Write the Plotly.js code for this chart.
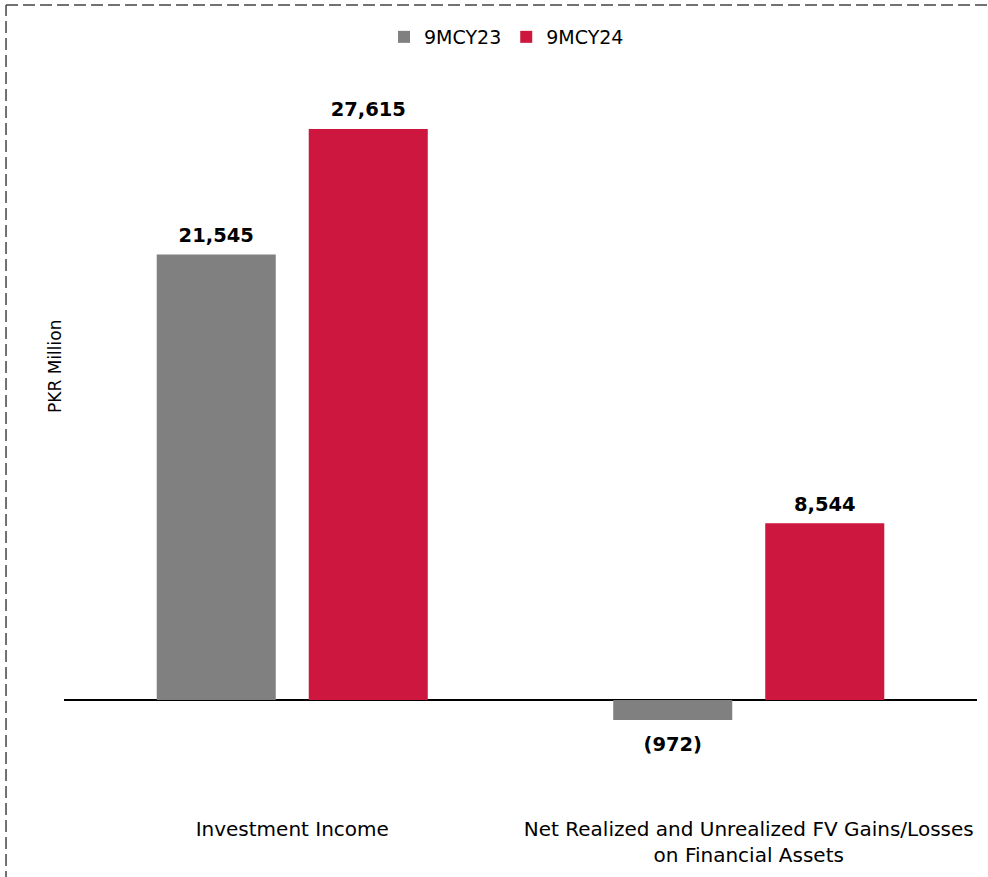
<!DOCTYPE html>
<html>
<head>
<meta charset="utf-8">
<script src="https://cdn.plot.ly/plotly-3.0.1.min.js"></script>
<style>
html,body{margin:0;padding:0;background:#fff;}
#chart{width:988px;height:877px;}
</style>
</head>
<body>
<div id="chart"></div>
<script>
var categories = ["Investment Income", "Net Realized and Unrealized FV Gains/Losses<br>on Financial Assets"];
var seriesNames = ["9MCY23", "9MCY24"];
var values9MCY23 = [21545, -972];
var values9MCY24 = [27615, 8544];
var colors = ["#808080", "#CE173E"];
var yAxisTitle = "PKR Million";

var FONT = "Verdana, 'DejaVu Sans', sans-serif";

function fmt(v) {
  var s = Math.abs(v).toLocaleString("en-US");
  return v < 0 ? "(" + s + ")" : s;
}

var seriesValues = [values9MCY23, values9MCY24];
var traces = [];
seriesValues.forEach(function (vals, i) {
  traces.push({
    type: "bar",
    name: seriesNames[i],
    x: categories,
    y: vals,
    offsetgroup: String(i),
    alignmentgroup: "a",
    marker: {color: colors[i], line: {width: 0}},
    hoverinfo: "skip"
  });
});
seriesValues.forEach(function (vals, i) {
  traces.push({
    type: "scatter",
    mode: "markers+text",
    x: categories,
    y: vals,
    offsetgroup: String(i),
    alignmentgroup: "a",
    showlegend: false,
    hoverinfo: "skip",
    cliponaxis: false,
    text: vals.map(fmt),
    textposition: vals.map(function (v) { return v < 0 ? "bottom center" : "top center"; }),
    texttemplate: "<b>%{text}</b>",
    textfont: {family: FONT, size: 19.5, color: "#000"},
    marker: {size: vals.map(function (v) { return v < 0 ? 24 : 11; }), opacity: 0}
  });
});

var L = 64, R = 11, T = 50, B = 62;
var layout = {
  width: 988,
  height: 877,
  margin: {l: L, r: R, t: T, b: B},
  paper_bgcolor: "#fff",
  plot_bgcolor: "#fff",
  barmode: "group",
  scattermode: "group",
  bargap: 0.334,
  scattergap: 0.334,
  bargroupgap: 0.217,
  font: {family: FONT, color: "#000"},
  showlegend: true,
  legend: {
    orientation: "h",
    x: 0.4847, xanchor: "center",
    y: 1.017, yanchor: "middle",
    font: {family: FONT, size: 19, color: "#000"},
    itemwidth: 30,
    traceorder: "normal"
  },
  xaxis: {
    type: "category",
    showgrid: false,
    showline: false,
    zeroline: false,
    ticks: "",
    tickfont: {family: FONT, size: 20, color: "#000"},
    fixedrange: true
  },
  yaxis: {
    range: [-5562, 31436],
    showgrid: false,
    showticklabels: false,
    ticks: "",
    showline: false,
    zeroline: true,
    zerolinecolor: "#000",
    zerolinewidth: 1.5,
    fixedrange: true
  },
  annotations: [
    {text: yAxisTitle, xref: "paper", yref: "paper", x: -0.0099, y: 0.587,
     xanchor: "center", yanchor: "middle", textangle: -90, showarrow: false,
     font: {family: FONT, size: 17, color: "#000"}}
  ],
  shapes: [
    {type: "line", xref: "paper", yref: "paper", x0: -0.0635, x1: -0.0635, y0: -0.2, y1: 1.0588,
     line: {color: "#444", width: 1.5, dash: "12px,5px"}},
    {type: "line", xref: "paper", yref: "paper", x0: -0.0635, x1: 1.1, y0: 1.0588, y1: 1.0588,
     line: {color: "#444", width: 1.5, dash: "12px,5px"}}
  ]
};

Plotly.newPlot("chart", traces, layout, {displayModeBar: false, staticPlot: true});
</script>
</body>
</html>
